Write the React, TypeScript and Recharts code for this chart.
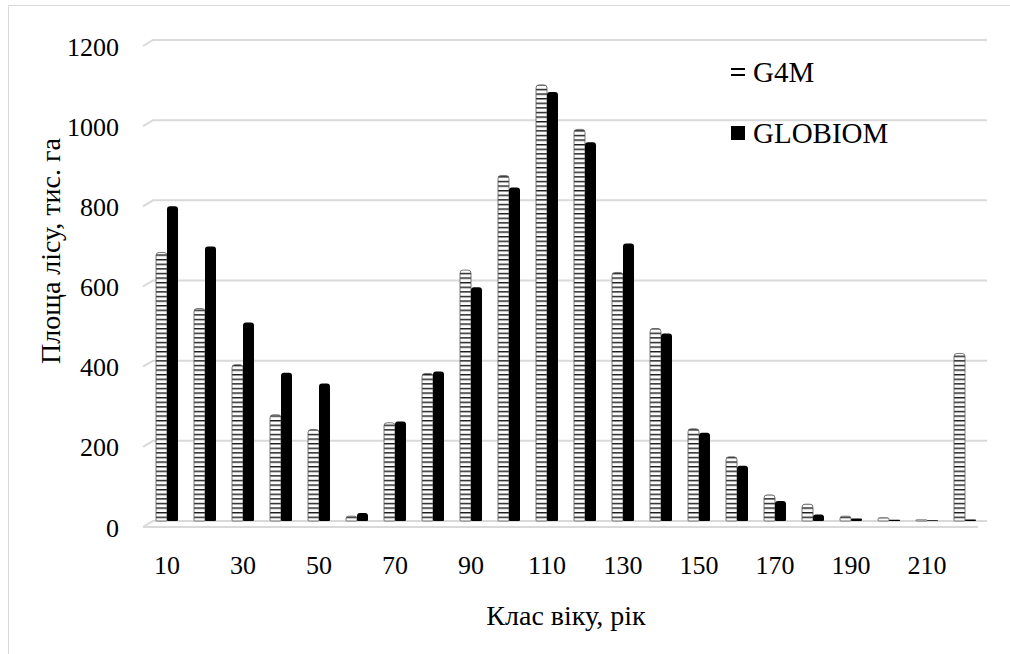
import { BarChart, Bar, XAxis, YAxis, CartesianGrid, Legend, Label } from 'recharts';

// Age classes (years) and forest area (thousand ha)
const AGE_CLASSES = ['10', '20', '30', '40', '50', '60', '70', '80', '90', '100', '110',
  '120', '130', '140', '150', '160', '170', '180', '190', '200', '210', '220'];
const G4M = [670, 530, 390, 265, 228, 12, 245, 368, 626, 862, 1088, 977, 620, 480, 230, 160, 65, 42, 12, 8, 3, 418];
const GLOBIOM = [785, 685, 495, 370, 343, 20, 248, 373, 583, 832, 1070, 945, 692, 468, 220, 138, 50, 16, 6, 3, 2, 4];
const Y_TICKS = [0, 200, 400, 600, 800, 1000, 1200];

const data = AGE_CLASSES.map((age, i) => ({ age, g4m: G4M[i], globiom: GLOBIOM[i] }));

const FONT = 'Liberation Serif';
const PLOT_BOTTOM = 515;

const gridLine = (props: any) => {
  const { x1, x2, y1 } = props;
  const bottom = Math.abs(y1 - PLOT_BOTTOM) < 1;
  return (
    <g key={props.key}>
      <path d={`M${x1 - 5},${y1 + 6} L${x1 + 5},${y1} L${x2 + 3},${y1}`} stroke="#d9d9d9" strokeWidth={2} fill="none" />
      {bottom && <path d={`M${x1 - 5},${y1 + 6} L${x2 - 6},${y1 + 6}`} stroke="#d9d9d9" strokeWidth={2} fill="none" />}
    </g>
  );
};

const YTick = ({ x, y, payload }: any) => (
  <text x={x} y={y + 7} textAnchor="end" dominantBaseline="central" fontSize={26} fontFamily={FONT} style={{ fontFamily: FONT }} fill="#000">
    {payload.value}
  </text>
);

const XTick = ({ x, y, payload }: any) => (
  <text x={x} y={y + 44} textAnchor="middle" dominantBaseline="central" fontSize={26} fontFamily={FONT} style={{ fontFamily: FONT }} fill="#000">
    {payload.value}
  </text>
);

const LegendBox = () => (
  <div style={{ fontFamily: FONT, fontSize: 29, color: '#000' }}>
    <div style={{ display: 'flex', alignItems: 'center', height: 34, lineHeight: '34px', marginBottom: 27 }}>
      <svg width={14} height={14} style={{ marginRight: 8 }}>
        <rect x={0} y={3} width={14} height={2} fill="#000" />
        <rect x={0} y={9} width={14} height={2} fill="#000" />
      </svg>
      <span style={{ fontFamily: FONT }}>G4M</span>
    </div>
    <div style={{ display: 'flex', alignItems: 'center', height: 34, lineHeight: '34px' }}>
      <svg width={14} height={14} style={{ marginRight: 8 }}>
        <rect x={0} y={0} width={14} height={14} fill="#000" />
      </svg>
      <span style={{ fontFamily: FONT }}>GLOBIOM</span>
    </div>
  </div>
);

export default function App() {
  return (
    <div
      style={{
        position: 'absolute',
        left: 8,
        top: 5,
        width: 1001,
        height: 648,
        borderTop: '1px solid #d9d9d9',
        borderLeft: '1px solid #d9d9d9',
        background: '#fff',
        overflow: 'hidden',
      }}
    >
      <BarChart
        width={1000}
        height={645}
        data={data}
        margin={{ top: 34, right: 25, bottom: 30, left: 29 }}
        barGap={0}
        barSize={11}
      >
        <defs>
          <pattern id="g4mStripes" patternUnits="userSpaceOnUse" width={12} height={4.6}>
            <rect x={0} y={0} width={12} height={4.6} fill="#fbfbfb" />
            <rect x={0} y={0} width={12} height={1.4} fill="#1a1a1a" />
          </pattern>
        </defs>
        <CartesianGrid vertical={false} horizontal={gridLine} />
        <XAxis
          dataKey="age"
          interval={1}
          height={100}
          axisLine={false}
          tickLine={false}
          tickSize={0}
          tickMargin={0}
          tick={<XTick />}
        >
          <Label
            content={({ viewBox }: any) => (
              <text
                x={viewBox.x + viewBox.width / 2}
                y={viewBox.y + 94}
                textAnchor="middle"
                dominantBaseline="central"
                fontSize={28}
                fontFamily={FONT}
                style={{ fontFamily: FONT }}
                fill="#000"
              >
                Клас віку, рік
              </text>
            )}
          />
        </XAxis>
        <YAxis
          domain={[0, 1200]}
          ticks={Y_TICKS}
          width={110}
          axisLine={false}
          tickLine={false}
          tickSize={0}
          tickMargin={29}
          tick={<YTick />}
        >
          <Label
            content={({ viewBox }: any) => (
              <text
                x={viewBox.x + 12}
                y={viewBox.y + 211}
                transform={`rotate(-90 ${viewBox.x + 12} ${viewBox.y + 211})`}
                textAnchor="middle"
                dominantBaseline="central"
                fontSize={28}
                fontFamily={FONT}
                style={{ fontFamily: FONT }}
                fill="#000"
              >
                Площа лісу, тис. га
              </text>
            )}
          />
        </YAxis>
        <Legend
          layout="vertical"
          align="center"
          verticalAlign="middle"
          content={<LegendBox />}
          wrapperStyle={{ left: 722, top: 49, width: 'auto' }}
        />
        <Bar dataKey="g4m" name="G4M" fill="url(#g4mStripes)" stroke="#555" strokeWidth={0.8} radius={[3, 3, 1, 1]} isAnimationActive={false} />
        <Bar dataKey="globiom" name="GLOBIOM" fill="#000" radius={[3, 3, 1, 1]} isAnimationActive={false} />
      </BarChart>
    </div>
  );
}
